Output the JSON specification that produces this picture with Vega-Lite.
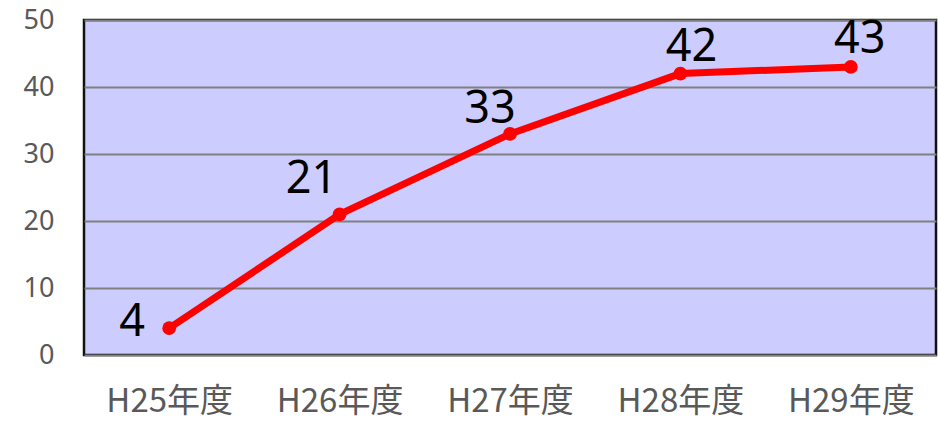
{
  "$schema": "https://vega.github.io/schema/vega-lite/v6.json",
  "width": 852,
  "height": 335,
  "autosize": {"type": "none"},
  "padding": {"left": 84, "top": 20, "right": 2, "bottom": 68},
  "background": "white",
  "config": {
    "view": {"fill": "#CCCCFF", "stroke": "#111111", "strokeWidth": 2.5},
    "font": "Noto Sans CJK JP"
  },
  "data": {
    "values": [
      {"year": "H25年度", "value": 4},
      {"year": "H26年度", "value": 21},
      {"year": "H27年度", "value": 33},
      {"year": "H28年度", "value": 42},
      {"year": "H29年度", "value": 43}
    ]
  },
  "encoding": {
    "x": {
      "field": "year", "type": "ordinal", "sort": null,
      "scale": {"type": "point", "padding": 0.5},
      "axis": {
        "title": null, "labelAngle": 0, "domain": false, "ticks": false,
        "labelFontSize": 33, "labelColor": "#595959", "labelPadding": 30,
        "labelFont": "Noto Sans CJK JP"
      }
    },
    "y": {
      "field": "value", "type": "quantitative",
      "scale": {"domain": [0, 50], "nice": false},
      "axis": {
        "title": null, "values": [0, 10, 20, 30, 40, 50], "domain": false, "ticks": false,
        "labelFontSize": 27, "labelColor": "#595959", "labelPadding": 30,
        "labelFont": "Noto Sans",
        "gridColor": "#808080", "gridWidth": 2, "gridOpacity": 1
      }
    }
  },
  "layer": [
    {"mark": {"type": "line", "color": "#FF0000", "strokeWidth": 7}},
    {"mark": {"type": "point", "filled": true, "color": "#FF0000", "opacity": 1, "size": 190}},
    {
      "transform": [{"filter": "datum.value == 4"}],
      "mark": {"type": "text", "fontSize": 45, "font": "Noto Sans", "color": "#000000", "align": "center", "baseline": "alphabetic", "dx": -37, "dy": 8},
      "encoding": {"text": {"field": "value"}}
    },
    {
      "transform": [{"filter": "datum.value == 21"}],
      "mark": {"type": "text", "fontSize": 45, "font": "Noto Sans", "color": "#000000", "align": "center", "baseline": "alphabetic", "dx": -28, "dy": -21},
      "encoding": {"text": {"field": "value"}}
    },
    {
      "transform": [{"filter": "datum.value == 33"}],
      "mark": {"type": "text", "fontSize": 45, "font": "Noto Sans", "color": "#000000", "align": "center", "baseline": "alphabetic", "dx": -20, "dy": -11},
      "encoding": {"text": {"field": "value"}}
    },
    {
      "transform": [{"filter": "datum.value == 42"}],
      "mark": {"type": "text", "fontSize": 45, "font": "Noto Sans", "color": "#000000", "align": "center", "baseline": "alphabetic", "dx": 11, "dy": -13},
      "encoding": {"text": {"field": "value"}}
    },
    {
      "transform": [{"filter": "datum.value == 43"}],
      "mark": {"type": "text", "fontSize": 45, "font": "Noto Sans", "color": "#000000", "align": "center", "baseline": "alphabetic", "dx": 9, "dy": -14},
      "encoding": {"text": {"field": "value"}}
    }
  ]
}
